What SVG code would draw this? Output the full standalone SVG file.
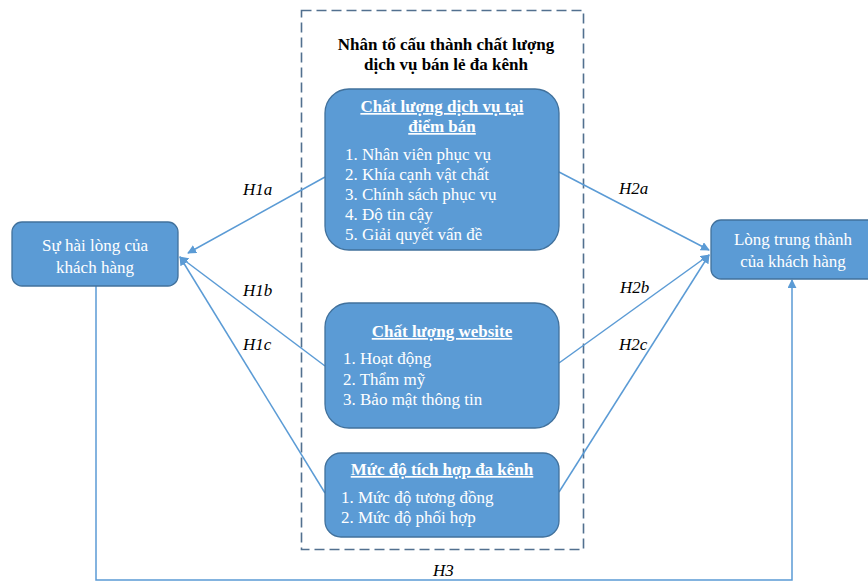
<svg xmlns="http://www.w3.org/2000/svg" width="868" height="582" viewBox="0 0 868 582" font-family="Liberation Serif, Tinos, Noto Serif, DejaVu Serif, Times New Roman, Times, serif" font-size="17">
  <defs>
    <style>
      .node { fill: #5b9bd5; stroke: #41719c; stroke-width: 1.3; }
      .ntext { fill: #ffffff; }
      .ttl { font-weight: bold; fill: #ffffff; text-decoration: underline; }
      .head { font-weight: bold; fill: #000000; }
      .lbl { font-style: italic; fill: #000000; }
      .conn { stroke: #5b9bd5; stroke-width: 1.5; fill: none; }
      .frame { fill: none; stroke: #52708f; stroke-width: 1.6; stroke-dasharray: 10 5; }
    </style>
    <marker id="arrow" viewBox="0 0 10 10" refX="9" refY="5" markerWidth="9" markerHeight="9" markerUnits="userSpaceOnUse" orient="auto">
      <path d="M0,0 L10,5 L0,10 z" fill="#5b9bd5"/>
    </marker>
  </defs>

  <rect width="868" height="582" fill="#ffffff"/>

  <!-- dashed grouping frame with heading -->
  <g id="group-frame">
    <rect class="frame" x="301.5" y="10.5" width="282" height="539"/>
    <text class="head" x="446" y="50" text-anchor="middle">Nhân tố cấu thành chất lượng</text>
    <text class="head" x="446" y="70" text-anchor="middle">dịch vụ bán lẻ đa kênh</text>
  </g>

  <!-- connectors -->
  <g id="connectors">
    <line class="conn" x1="325" y1="177" x2="188" y2="253" marker-end="url(#arrow)"/>
    <line class="conn" x1="325" y1="366" x2="180" y2="257" marker-end="url(#arrow)"/>
    <line class="conn" x1="325" y1="493" x2="180" y2="257" marker-end="url(#arrow)"/>
    <line class="conn" x1="559" y1="172" x2="709" y2="250" marker-end="url(#arrow)"/>
    <line class="conn" x1="559" y1="363" x2="709" y2="255" marker-end="url(#arrow)"/>
    <line class="conn" x1="559" y1="492" x2="709" y2="255" marker-end="url(#arrow)"/>
    <polyline class="conn" points="96,286 96,580 792,580 792,280" marker-end="url(#arrow)"/>
    <text class="lbl" x="243" y="195">H1a</text>
    <text class="lbl" x="243" y="296">H1b</text>
    <text class="lbl" x="243" y="350">H1c</text>
    <text class="lbl" x="619" y="194">H2a</text>
    <text class="lbl" x="620" y="293">H2b</text>
    <text class="lbl" x="619" y="350">H2c</text>
    <text class="lbl" x="433" y="576">H3</text>
  </g>

  <g id="satisfaction">
    <rect class="node" x="12" y="222" width="166" height="64" rx="10"/>
    <text class="ntext" x="95" y="251" text-anchor="middle">Sự hài lòng của</text>
    <text class="ntext" x="95" y="273" text-anchor="middle">khách hàng</text>
  </g>

  <g id="loyalty">
    <rect class="node" x="711" y="220" width="170" height="59" rx="10"/>
    <text class="ntext" x="793" y="245" text-anchor="middle">Lòng trung thành</text>
    <text class="ntext" x="793" y="267" text-anchor="middle">của khách hàng</text>
  </g>

  <g id="store-quality">
    <rect class="node" x="325" y="89" width="234" height="161" rx="24"/>
    <text class="ttl" x="442" y="112" text-anchor="middle">Chất lượng dịch vụ tại</text>
    <text class="ttl" x="442" y="132" text-anchor="middle">điểm bán</text>
    <text class="ntext" x="345" y="160">1. Nhân viên phục vụ</text>
    <text class="ntext" x="345" y="180">2. Khía cạnh vật chất</text>
    <text class="ntext" x="345" y="200">3. Chính sách phục vụ</text>
    <text class="ntext" x="345" y="220">4. Độ tin cậy</text>
    <text class="ntext" x="345" y="240">5. Giải quyết vấn đề</text>
  </g>

  <g id="website-quality">
    <rect class="node" x="325" y="303" width="234" height="125" rx="24"/>
    <text class="ttl" x="442" y="337" text-anchor="middle">Chất lượng website</text>
    <text class="ntext" x="343" y="364">1. Hoạt động</text>
    <text class="ntext" x="343" y="385">2. Thẩm mỹ</text>
    <text class="ntext" x="343" y="405">3. Bảo mật thông tin</text>
  </g>

  <g id="integration">
    <rect class="node" x="325" y="453" width="234" height="84" rx="16"/>
    <text class="ttl" x="442" y="475" text-anchor="middle">Mức độ tích hợp đa kênh</text>
    <text class="ntext" x="341" y="503">1. Mức độ tương đồng</text>
    <text class="ntext" x="341" y="523">2. Mức độ phối hợp</text>
  </g>
</svg>
